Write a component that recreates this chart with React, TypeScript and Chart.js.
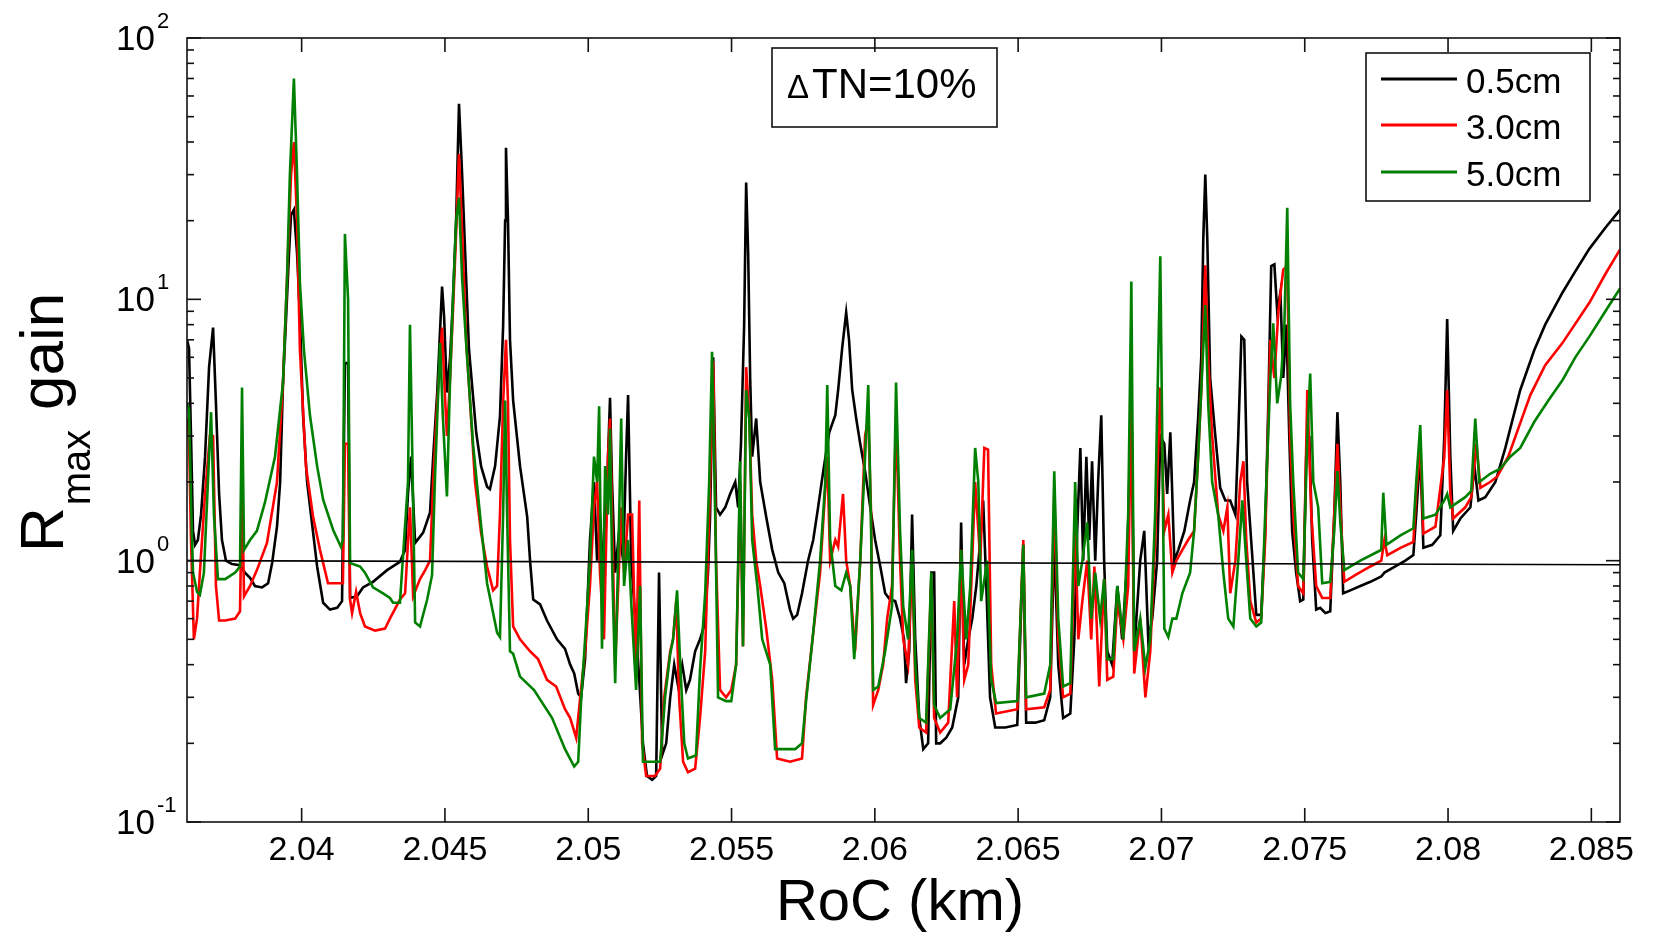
import React, { useEffect, useRef } from "react";
import { Chart, registerables } from "chart.js";

Chart.register(...registerables);

// RoC (km), R_max gain
const black05: [number, number][] = [
  [2.036, 7.0], [2.03607, 6.5], [2.03614, 3.0], [2.03621, 1.3], [2.03628, 1.15], [2.03638, 1.2],
  [2.03649, 1.5], [2.03663, 2.5], [2.03677, 5.5], [2.03691, 7.8], [2.03701, 4.0], [2.03712, 1.8],
  [2.03722, 1.2], [2.03736, 1.0], [2.03757, 0.97], [2.03785, 0.96], [2.03802, 0.9], [2.0382, 0.86],
  [2.03837, 0.8], [2.03862, 0.79], [2.03883, 0.82], [2.03897, 0.98], [2.03914, 1.35], [2.03925, 2.0],
  [2.03935, 4.8], [2.03946, 8.6], [2.03956, 15], [2.03963, 21], [2.03973, 22], [2.03984, 15],
  [2.03994, 8.6], [2.04005, 3.6], [2.04019, 2.0], [2.0404, 1.28], [2.04054, 0.95], [2.04075, 0.69],
  [2.04099, 0.65], [2.04124, 0.66], [2.04141, 0.7], [2.04151, 5.7], [2.04162, 5.7], [2.04169, 0.72],
  [2.04193, 0.73], [2.04214, 0.79], [2.04249, 0.83], [2.04298, 0.92], [2.04343, 0.99], [2.04361, 1.1],
  [2.04371, 1.8], [2.04382, 2.5], [2.04396, 1.17], [2.04424, 1.28], [2.04448, 1.53], [2.04459, 2.5],
  [2.04473, 4.4], [2.0449, 11.2], [2.04497, 8.6], [2.04507, 4.4], [2.04518, 6], [2.04528, 10],
  [2.04539, 20], [2.04549, 56], [2.0456, 30], [2.04574, 12], [2.04584, 6.4], [2.04609, 3.1],
  [2.04626, 2.3], [2.04647, 1.92], [2.04657, 1.88], [2.04675, 2.3], [2.04692, 3.56], [2.04703, 7.9],
  [2.0471, 20], [2.04713, 38], [2.0472, 20], [2.04727, 7], [2.04738, 4.1], [2.04762, 2.3],
  [2.04787, 1.47], [2.04797, 1.0], [2.04808, 0.71], [2.04832, 0.68], [2.04856, 0.59], [2.04891, 0.5],
  [2.04919, 0.46], [2.04937, 0.4], [2.04951, 0.37], [2.04965, 0.31], [2.04975, 0.3], [2.04989, 0.42],
  [2.05006, 1.2], [2.0502, 2.0], [2.05031, 1.0], [2.05041, 1.5], [2.05055, 0.8], [2.05069, 2.5],
  [2.05076, 4.2], [2.05083, 2.0], [2.05094, 0.9], [2.05108, 1.3], [2.05122, 1.0], [2.05132, 2.5],
  [2.05139, 4.3], [2.0515, 1.0], [2.05164, 0.6], [2.05178, 0.35], [2.05191, 0.2], [2.05205, 0.15],
  [2.05223, 0.145], [2.05237, 0.15], [2.05247, 0.9], [2.05258, 0.18], [2.05272, 0.2], [2.05286, 0.3],
  [2.053, 0.4], [2.05314, 0.33], [2.05328, 0.4], [2.05342, 0.32], [2.05355, 0.35], [2.05373, 0.45],
  [2.0539, 0.5], [2.05404, 0.56], [2.05418, 0.9], [2.05425, 1.47], [2.05436, 6.0], [2.05446, 1.6],
  [2.0546, 1.5], [2.05478, 1.6], [2.05495, 1.8], [2.05513, 2.0], [2.05523, 1.6], [2.05533, 2.8],
  [2.05544, 8], [2.05551, 28], [2.05558, 15], [2.05565, 5], [2.05572, 2.5], [2.05586, 3.5],
  [2.056, 2.0], [2.05621, 1.47], [2.05642, 1.1], [2.05663, 0.9], [2.05684, 0.82], [2.05704, 0.65],
  [2.05715, 0.6], [2.05729, 0.62], [2.05746, 0.75], [2.05767, 1.0], [2.05785, 1.2], [2.05802, 1.6],
  [2.0582, 2.2], [2.05841, 3.1], [2.05862, 3.6], [2.05872, 4.5], [2.05886, 6.5], [2.059, 8.9],
  [2.0591, 7], [2.05921, 4.5], [2.05935, 3.5], [2.05949, 2.8], [2.05966, 2.2], [2.05984, 1.6],
  [2.06001, 1.2], [2.06019, 0.95], [2.06036, 0.75], [2.06053, 0.71], [2.06071, 0.7], [2.06088, 0.6],
  [2.06102, 0.5], [2.06109, 0.34], [2.0612, 0.45], [2.0613, 1.5], [2.06141, 0.5], [2.06155, 0.25],
  [2.06169, 0.19], [2.06186, 0.2], [2.06197, 0.9], [2.06207, 0.9], [2.06214, 0.2], [2.06228, 0.2],
  [2.06249, 0.21], [2.0627, 0.23], [2.06291, 0.3], [2.06301, 1.4], [2.06312, 0.4], [2.06326, 0.5],
  [2.0634, 0.6], [2.06354, 0.8], [2.06368, 1.2], [2.06378, 1.7], [2.06389, 0.8], [2.06402, 0.3],
  [2.0642, 0.23], [2.06455, 0.23], [2.06497, 0.235], [2.06507, 0.5], [2.06518, 1.15], [2.06528, 0.24],
  [2.0656, 0.24], [2.06591, 0.245], [2.06612, 0.3], [2.06626, 1.2], [2.0664, 0.4], [2.06657, 0.25],
  [2.06682, 0.26], [2.06696, 0.5], [2.06706, 1.3], [2.06717, 2.7], [2.06727, 1.0], [2.06738, 2.5],
  [2.06748, 1.2], [2.06758, 2.4], [2.06769, 1.0], [2.06779, 2.0], [2.0679, 3.6], [2.068, 1.0],
  [2.06811, 0.45], [2.06828, 0.4], [2.06846, 0.8], [2.06863, 0.5], [2.06881, 1.0], [2.06895, 4.5],
  [2.06905, 0.45], [2.06926, 1.0], [2.0694, 1.3], [2.06954, 0.5], [2.06968, 0.6], [2.06985, 1.0],
  [2.06996, 3.0], [2.0701, 2.8], [2.0702, 1.8], [2.07031, 3.1], [2.07045, 1.0], [2.07059, 1.1],
  [2.0708, 1.3], [2.071, 1.7], [2.07114, 2.0], [2.07128, 3.5], [2.07139, 6], [2.07146, 17],
  [2.07153, 30], [2.0716, 17], [2.0717, 5], [2.07188, 3], [2.07205, 1.9], [2.07223, 1.7],
  [2.0724, 1.7], [2.07258, 1.5], [2.07268, 3.0], [2.07279, 7.2], [2.07289, 7.0], [2.07299, 2.0],
  [2.07313, 1.2], [2.07331, 0.62], [2.07348, 0.62], [2.07362, 1.3], [2.07373, 4], [2.07383, 13.4],
  [2.07394, 13.6], [2.07404, 9], [2.07415, 10.6], [2.07425, 5], [2.07436, 8], [2.07446, 3],
  [2.07456, 1.3], [2.0747, 0.9], [2.07484, 0.7], [2.07495, 0.71], [2.07505, 2.5], [2.07516, 3.0],
  [2.07526, 1.2], [2.0754, 0.65], [2.07554, 0.66], [2.07572, 0.63], [2.07589, 0.64], [2.07603, 1.5],
  [2.07614, 3.7], [2.07624, 2.0], [2.07634, 0.75], [2.07659, 0.77], [2.07694, 0.8], [2.07729, 0.83],
  [2.07767, 0.87], [2.07778, 0.9], [2.07816, 0.95], [2.07851, 1.0], [2.07879, 1.05], [2.07889, 1.5],
  [2.07903, 2.6], [2.07914, 1.12], [2.07945, 1.15], [2.07973, 1.25], [2.07987, 3.0], [2.07997, 8.4],
  [2.08008, 2.5], [2.08018, 1.3], [2.08043, 1.45], [2.08078, 1.6], [2.08092, 2.3], [2.08106, 1.7],
  [2.0813, 1.75], [2.08165, 2.0], [2.082, 2.7], [2.08217, 3.2], [2.08252, 4.5], [2.08301, 6.4],
  [2.08339, 8.0], [2.08399, 10.6], [2.08444, 12.8], [2.08493, 15.6], [2.08549, 18.8], [2.086, 22],
];

const red30: [number, number][] = [
  [2.036, 3.5], [2.03607, 3.0], [2.03614, 1.2], [2.03624, 0.5], [2.03635, 0.6], [2.03645, 0.9],
  [2.03663, 1.8], [2.0368, 3.0], [2.03691, 3.0], [2.03701, 0.8], [2.03712, 0.59], [2.03733, 0.59],
  [2.03768, 0.6], [2.03785, 0.64], [2.03792, 2.0], [2.03799, 0.73], [2.0382, 0.8], [2.03844, 0.92],
  [2.03879, 1.17], [2.03914, 2.0], [2.03935, 4.8], [2.03949, 12], [2.03963, 30], [2.03973, 40],
  [2.03984, 20], [2.03994, 6.4], [2.04015, 2.3], [2.0404, 1.47], [2.04064, 1.1], [2.04092, 0.82],
  [2.04134, 0.82], [2.04144, 0.82], [2.04151, 2.8], [2.04162, 2.8], [2.04169, 0.71], [2.04176, 0.63],
  [2.0419, 0.76], [2.04204, 0.63], [2.04221, 0.56], [2.04256, 0.54], [2.04291, 0.55], [2.04308, 0.6],
  [2.04343, 0.71], [2.04361, 0.75], [2.04378, 1.6], [2.04389, 0.73], [2.04413, 0.85], [2.04431, 0.92],
  [2.04448, 1.0], [2.04459, 2.0], [2.04473, 4.0], [2.0449, 7.8], [2.04497, 5], [2.04507, 3],
  [2.04518, 5], [2.04528, 9], [2.04539, 18], [2.04549, 36], [2.0456, 18], [2.04574, 7],
  [2.04588, 4], [2.04605, 2.0], [2.04626, 1.28], [2.04647, 0.95], [2.04668, 0.77], [2.04682, 0.8],
  [2.04692, 1.5], [2.04703, 4], [2.04713, 7.0], [2.0472, 4], [2.04727, 1.2], [2.04738, 0.56],
  [2.04762, 0.5], [2.04797, 0.45], [2.04825, 0.42], [2.04856, 0.35], [2.04888, 0.33], [2.04919, 0.27],
  [2.04937, 0.25], [2.04958, 0.21], [2.04972, 0.3], [2.04989, 0.45], [2.05006, 0.8], [2.0502, 1.6],
  [2.05031, 2.0], [2.05041, 0.9], [2.05055, 0.5], [2.05069, 2.5], [2.05076, 3.5], [2.05083, 1.5],
  [2.05094, 0.4], [2.05108, 1.0], [2.05115, 1.6], [2.05125, 0.9], [2.05139, 1.5], [2.05153, 1.5],
  [2.05167, 0.36], [2.05178, 1.7], [2.05188, 0.2], [2.05202, 0.15], [2.05233, 0.15], [2.05251, 0.16],
  [2.05265, 0.3], [2.05286, 0.45], [2.05296, 0.5], [2.05307, 0.7], [2.05317, 0.3], [2.05331, 0.17],
  [2.05348, 0.155], [2.05373, 0.16], [2.0539, 0.25], [2.05408, 0.45], [2.05422, 1.5], [2.05436, 5.8],
  [2.05446, 1.0], [2.0546, 0.32], [2.05481, 0.3], [2.05499, 0.32], [2.05516, 0.4], [2.0553, 2.0],
  [2.0554, 0.47], [2.05551, 5.5], [2.05562, 3.5], [2.05572, 1.5], [2.05586, 1.0], [2.056, 0.8],
  [2.05621, 0.55], [2.05642, 0.35], [2.05659, 0.175], [2.05704, 0.17], [2.05746, 0.175], [2.0576, 0.3],
  [2.05785, 0.53], [2.05809, 0.9], [2.05834, 2.5], [2.05844, 1.0], [2.05862, 1.2], [2.05872, 1.13],
  [2.05889, 1.8], [2.059, 1.0], [2.05914, 0.8], [2.05931, 0.45], [2.05949, 1.0], [2.05966, 3.0],
  [2.05977, 3.5], [2.05987, 1.5], [2.05994, 0.28], [2.06012, 0.32], [2.06029, 0.4], [2.06043, 0.6],
  [2.0606, 0.8], [2.06074, 3.5], [2.06088, 1.0], [2.06099, 0.5], [2.06116, 0.4], [2.0613, 1.0],
  [2.06141, 0.35], [2.06155, 0.23], [2.06179, 0.22], [2.06197, 0.85], [2.06207, 0.25], [2.06228, 0.22],
  [2.06256, 0.24], [2.06277, 0.7], [2.06287, 0.3], [2.06301, 1.1], [2.06312, 0.35], [2.06326, 0.4],
  [2.0635, 2.0], [2.06368, 1.0], [2.06382, 2.7], [2.06395, 2.66], [2.06406, 0.4], [2.06423, 0.26],
  [2.06497, 0.27], [2.06518, 1.2], [2.06528, 0.27], [2.06591, 0.275], [2.06612, 0.32], [2.06626, 1.8],
  [2.0664, 0.5], [2.06657, 0.3], [2.06682, 0.31], [2.06699, 1.3], [2.0671, 0.5], [2.06724, 0.7],
  [2.06741, 1.0], [2.06755, 0.5], [2.06766, 0.95], [2.06783, 0.33], [2.068, 0.85], [2.06811, 0.35],
  [2.06832, 0.36], [2.06846, 0.7], [2.06867, 0.5], [2.06884, 0.8], [2.06895, 4.5], [2.06905, 0.37],
  [2.06926, 0.6], [2.06944, 0.3], [2.06961, 0.45], [2.06978, 1.2], [2.06996, 4.6], [2.0701, 1.3],
  [2.07024, 1.5], [2.07038, 0.9], [2.07052, 1.0], [2.07073, 1.1], [2.07093, 1.2], [2.07114, 1.3],
  [2.07128, 2.5], [2.07139, 4.5], [2.07153, 13.5], [2.07163, 6], [2.07177, 3], [2.07198, 1.5],
  [2.07216, 1.3], [2.0723, 1.6], [2.0724, 0.75], [2.07258, 1.0], [2.07275, 2.0], [2.07286, 2.4],
  [2.07296, 1.2], [2.0731, 0.7], [2.07331, 0.58], [2.07348, 0.6], [2.07362, 1.2], [2.0738, 7],
  [2.07394, 5], [2.07408, 9], [2.07425, 13], [2.07439, 13.4], [2.07449, 3], [2.0746, 1.5],
  [2.07477, 0.8], [2.07495, 0.75], [2.07509, 4.5], [2.07523, 1.5], [2.0754, 0.8], [2.07561, 0.72],
  [2.07589, 0.72], [2.07603, 1.5], [2.07614, 2.8], [2.07624, 1.6], [2.07638, 0.83], [2.07676, 0.88],
  [2.07729, 0.95], [2.07767, 1.0], [2.07778, 1.2], [2.07788, 1.05], [2.07834, 1.12], [2.07879, 1.18],
  [2.07889, 1.8], [2.07903, 2.8], [2.07914, 1.27], [2.07956, 1.35], [2.07987, 2.5], [2.07997, 4.5],
  [2.08008, 1.8], [2.08018, 1.45], [2.0806, 1.6], [2.08081, 1.75], [2.08099, 2.8], [2.08113, 1.9],
  [2.08147, 2.0], [2.08172, 2.1], [2.0821, 2.5], [2.08245, 3.2], [2.08287, 4.3], [2.08339, 5.6],
  [2.08399, 6.8], [2.08493, 9.7], [2.08549, 12.5], [2.086, 15.5],
];

const green50: [number, number][] = [
  [2.036, 4.0], [2.03607, 3.8], [2.03614, 1.7], [2.03621, 0.9], [2.03635, 0.76], [2.03645, 0.74],
  [2.03659, 0.9], [2.03673, 2.0], [2.03684, 3.7], [2.03694, 1.5], [2.03708, 0.85], [2.03733, 0.85],
  [2.03768, 0.9], [2.03785, 0.95], [2.03792, 4.6], [2.03799, 1.1], [2.0382, 1.2], [2.03844, 1.3],
  [2.03872, 1.67], [2.03907, 2.5], [2.03935, 4.8], [2.03949, 12], [2.03959, 30], [2.03973, 70],
  [2.03984, 30], [2.03994, 11.6], [2.04008, 6.4], [2.04029, 3.6], [2.04054, 2.3], [2.04075, 1.71],
  [2.0411, 1.31], [2.04137, 1.13], [2.04144, 1.2], [2.04151, 17.8], [2.04162, 10], [2.04169, 0.98],
  [2.04204, 0.95], [2.04221, 0.9], [2.04249, 0.79], [2.04284, 0.75], [2.04308, 0.72], [2.04319, 0.69],
  [2.04343, 0.69], [2.04371, 2.0], [2.04378, 8.0], [2.04385, 3], [2.04396, 0.58], [2.04413, 0.56],
  [2.04438, 0.71], [2.04455, 0.88], [2.04466, 2.2], [2.04483, 6.8], [2.04493, 3.5], [2.04507, 1.76],
  [2.04518, 5], [2.04528, 10], [2.04539, 20], [2.04549, 24.5], [2.0456, 12], [2.04574, 6.8],
  [2.04598, 2.8], [2.04623, 1.47], [2.04647, 0.82], [2.04682, 0.53], [2.04692, 0.51], [2.04703, 1.5],
  [2.0471, 4.1], [2.04717, 1.5], [2.04727, 0.45], [2.04738, 0.44], [2.04762, 0.36], [2.04811, 0.32],
  [2.04874, 0.25], [2.04919, 0.19], [2.04951, 0.163], [2.04965, 0.17], [2.04975, 0.29], [2.04989, 0.5],
  [2.05006, 1.0], [2.0502, 2.5], [2.05031, 2.0], [2.05038, 3.9], [2.05048, 0.46], [2.05059, 2.3],
  [2.05069, 1.5], [2.05076, 3.2], [2.05083, 1.0], [2.05094, 0.34], [2.05108, 1.5], [2.05115, 3.5],
  [2.05125, 0.8], [2.05139, 1.2], [2.05153, 0.6], [2.05167, 0.32], [2.05181, 0.8], [2.05191, 0.17],
  [2.05216, 0.17], [2.05251, 0.17], [2.05268, 0.3], [2.05286, 0.44], [2.05296, 0.5], [2.0531, 0.77],
  [2.05321, 0.4], [2.05335, 0.2], [2.05348, 0.175], [2.05376, 0.18], [2.0539, 0.38], [2.05408, 0.75],
  [2.05422, 2.0], [2.05432, 6.3], [2.05443, 1.5], [2.05453, 0.3], [2.05481, 0.29], [2.05499, 0.29],
  [2.05516, 0.4], [2.0553, 2.4], [2.0554, 0.47], [2.05551, 4.5], [2.05562, 3.5], [2.05572, 1.2],
  [2.0559, 0.8], [2.05607, 0.5], [2.05635, 0.4], [2.05652, 0.19], [2.05722, 0.19], [2.05746, 0.2],
  [2.0576, 0.29], [2.05785, 0.53], [2.05809, 1.0], [2.05827, 2.0], [2.05834, 4.7], [2.05844, 1.2],
  [2.05862, 0.8], [2.05883, 0.77], [2.059, 0.9], [2.05914, 0.8], [2.05928, 0.42], [2.05949, 1.0],
  [2.05966, 2.5], [2.05977, 4.7], [2.05987, 1.3], [2.05994, 0.32], [2.06012, 0.33], [2.06036, 0.45],
  [2.0606, 0.67], [2.06074, 4.8], [2.06088, 1.3], [2.06099, 0.67], [2.06116, 0.5], [2.0613, 1.1],
  [2.06141, 0.4], [2.06155, 0.25], [2.06179, 0.24], [2.06197, 0.9], [2.06207, 0.28], [2.06228, 0.25],
  [2.06263, 0.27], [2.06287, 0.5], [2.06301, 1.1], [2.06319, 0.5], [2.06333, 0.8], [2.0635, 2.7],
  [2.06361, 2.0], [2.06371, 0.7], [2.06392, 1.0], [2.06406, 0.35], [2.06423, 0.285], [2.06497, 0.29],
  [2.06518, 1.15], [2.06528, 0.3], [2.06591, 0.31], [2.06612, 0.4], [2.06626, 2.2], [2.0664, 0.6],
  [2.06657, 0.33], [2.06682, 0.34], [2.06699, 2.0], [2.0671, 0.8], [2.06724, 1.0], [2.06741, 1.4],
  [2.06755, 0.6], [2.06769, 0.9], [2.06786, 0.6], [2.068, 0.85], [2.06811, 0.42], [2.06832, 0.42],
  [2.06846, 0.8], [2.06867, 0.5], [2.06884, 1.5], [2.06895, 11.7], [2.06905, 0.45], [2.06926, 0.6],
  [2.06944, 0.39], [2.06961, 0.5], [2.06978, 1.5], [2.06996, 14.6], [2.0701, 0.55], [2.07024, 0.51],
  [2.07038, 0.6], [2.07052, 0.6], [2.07073, 0.75], [2.071, 0.9], [2.07114, 1.3], [2.07128, 2.5],
  [2.07139, 4.5], [2.07153, 9.5], [2.07163, 4], [2.07177, 2], [2.07198, 1.5], [2.07216, 0.9],
  [2.07233, 0.6], [2.07251, 0.56], [2.07268, 1.0], [2.07282, 1.7], [2.07296, 1.0], [2.0731, 0.6],
  [2.07331, 0.56], [2.07348, 0.58], [2.07362, 1.5], [2.0738, 5], [2.0739, 8.1], [2.07404, 4],
  [2.07418, 5.1], [2.07429, 8], [2.07439, 22.4], [2.07449, 4], [2.0746, 2], [2.07477, 0.9],
  [2.07495, 0.85], [2.07509, 3], [2.07519, 5.2], [2.0753, 2], [2.07547, 1.6], [2.07561, 0.82],
  [2.07589, 0.83], [2.07603, 1.3], [2.07614, 2.2], [2.07624, 1.4], [2.07638, 0.92], [2.07694, 1.0],
  [2.07746, 1.07], [2.07767, 1.1], [2.07774, 1.82], [2.07785, 1.15], [2.07834, 1.25], [2.07879, 1.33],
  [2.07889, 2.0], [2.07903, 3.3], [2.07914, 1.45], [2.07956, 1.5], [2.07987, 1.7], [2.07997, 1.8],
  [2.08008, 1.6], [2.0806, 1.75], [2.08081, 1.85], [2.08095, 3.5], [2.08109, 2.0], [2.08147, 2.15],
  [2.08182, 2.25], [2.08217, 2.5], [2.08252, 2.7], [2.08301, 3.4], [2.0835, 4.1], [2.08399, 4.9],
  [2.08444, 6.0], [2.08493, 7.2], [2.08549, 9.0], [2.086, 11.0],
];

const unityLine: [number, number][] = [[2.036, 1.0], [2.086, 0.965]];

const seriesLabels = ["0.5cm", "3.0cm", "5.0cm"];
const seriesColors = ["#000000", "#ff0000", "#008000"];
const xTickValues = [2.04, 2.045, 2.05, 2.055, 2.06, 2.065, 2.07, 2.075, 2.08, 2.085];
const xTickLabels = ["2.04", "2.045", "2.05", "2.055", "2.06", "2.065", "2.07", "2.075", "2.08", "2.085"];
const yExponents = [-1, 0, 1, 2];
const yExponentLabels = ["-1", "0", "1", "2"];
const boxText = ["Δ", "TN=10%"];
const xTitle = "RoC (km)";
const yTitleParts = ["R", "max", "gain"];

const FONT = '"Liberation Sans", Arial, Helvetica, sans-serif';

const toXY = (arr: [number, number][]) => arr.map(([x, y]) => ({ x, y }));

const decorPlugin = {
  id: "decor",
  afterDraw(chart: any) {
    const { ctx, chartArea: a, scales } = chart;
    const xs = scales.x;
    const ys = scales.y;
    ctx.save();
    ctx.strokeStyle = "#111";
    ctx.fillStyle = "#000";
    ctx.lineWidth = 1.6;
    ctx.strokeRect(a.left, a.top, a.right - a.left, a.bottom - a.top);
    const seg = (x1: number, y1: number, x2: number, y2: number) => {
      ctx.beginPath();
      ctx.moveTo(x1, y1);
      ctx.lineTo(x2, y2);
      ctx.stroke();
    };
    ctx.font = `34px ${FONT}`;
    ctx.textAlign = "center";
    ctx.textBaseline = "alphabetic";
    xTickValues.forEach((v, i) => {
      const px = xs.getPixelForValue(v);
      seg(px, a.bottom, px, a.bottom - 14);
      seg(px, a.top, px, a.top + 14);
      ctx.fillText(xTickLabels[i], px, a.bottom + 38);
    });
    yExponents.forEach((e) => {
      for (let m = 1; m <= 9; m++) {
        const v = m * Math.pow(10, e);
        if (v > 100.0001) break;
        const py = ys.getPixelForValue(v);
        const len = m === 1 ? 14 : 7;
        seg(a.left, py, a.left + len, py);
        seg(a.right, py, a.right - len, py);
      }
    });
    yExponents.forEach((e, i) => {
      const py = ys.getPixelForValue(Math.pow(10, e));
      ctx.textAlign = "right";
      ctx.font = `35px ${FONT}`;
      ctx.fillText("10", 155, py + 12);
      ctx.textAlign = "left";
      ctx.font = `22px ${FONT}`;
      ctx.fillText(yExponentLabels[i], 157, py - 10);
    });
    ctx.textAlign = "center";
    ctx.font = `58px ${FONT}`;
    ctx.fillText(xTitle, 900, 920);
    ctx.save();
    ctx.translate(63, 552);
    ctx.rotate(-Math.PI / 2);
    ctx.textAlign = "left";
    ctx.font = `62px ${FONT}`;
    ctx.fillText(yTitleParts[0], 0, 0);
    const rw = ctx.measureText(yTitleParts[0]).width;
    ctx.font = `40px ${FONT}`;
    ctx.fillText(yTitleParts[1], rw + 2, 27);
    ctx.font = `62px ${FONT}`;
    ctx.fillText(yTitleParts[2], 142, 0);
    ctx.restore();
    ctx.lineWidth = 1.6;
    ctx.strokeRect(772, 48, 225, 79);
    ctx.textAlign = "left";
    ctx.font = `33px ${FONT}`;
    ctx.fillText(boxText[0], 787, 98);
    ctx.font = `42px ${FONT}`;
    ctx.fillText(boxText[1], 812, 98);
    ctx.strokeStyle = "#111";
    ctx.strokeRect(1366, 53, 224, 148);
    const ly = [79, 125, 172];
    seriesLabels.forEach((lab, i) => {
      ctx.strokeStyle = seriesColors[i];
      ctx.lineWidth = 3;
      seg(1381, ly[i], 1457, ly[i]);
      ctx.fillStyle = "#000";
      ctx.font = `35px ${FONT}`;
      ctx.fillText(lab, 1466, ly[i] + 14);
    });
    ctx.restore();
  },
};

export default function App() {
  const ref = useRef<HTMLCanvasElement>(null);
  useEffect(() => {
    const canvas = ref.current;
    if (!canvas) return;
    const chart = new Chart(canvas, {
      type: "line",
      data: {
        datasets: [
          { label: seriesLabels[0], data: toXY(black05), borderColor: seriesColors[0], borderWidth: 2.6, order: 2 },
          { label: seriesLabels[1], data: toXY(red30), borderColor: seriesColors[1], borderWidth: 2.6, order: 1 },
          { label: seriesLabels[2], data: toXY(green50), borderColor: seriesColors[2], borderWidth: 2.6, order: 0 },
          { label: "unity", data: toXY(unityLine), borderColor: "#000000", borderWidth: 1.6, order: -1 },
        ] as any,
      },
      options: {
        responsive: false,
        devicePixelRatio: 1,
        animation: false,
        parsing: false as any,
        elements: { point: { radius: 0 }, line: { tension: 0 } },
        layout: { padding: { left: 0, right: 33, top: 38, bottom: 0 } },
        plugins: { legend: { display: false }, tooltip: { enabled: false } },
        scales: {
          x: {
            type: "linear",
            min: 2.036,
            max: 2.086,
            grid: { display: false },
            border: { display: false },
            ticks: { display: false },
            afterFit: (s: any) => { s.height = 111; },
          },
          y: {
            type: "logarithmic",
            min: 0.1,
            max: 100,
            grid: { display: false },
            border: { display: false },
            ticks: { display: false },
            afterFit: (s: any) => { s.width = 187; },
          },
        },
      },
      plugins: [decorPlugin],
    });
    return () => chart.destroy();
  }, []);
  return (
    <div style={{ position: "absolute", left: 0, top: 0, width: 1653, height: 933, background: "#fff" }}>
      <canvas ref={ref} width={1653} height={933} style={{ display: "block" }} />
    </div>
  );
}
